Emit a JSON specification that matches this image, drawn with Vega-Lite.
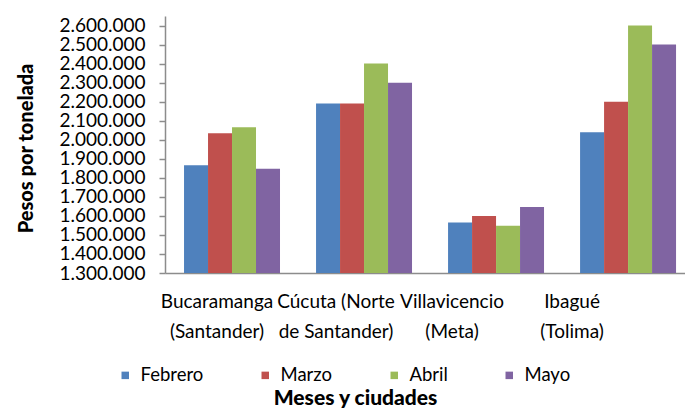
{
  "$schema": "https://vega.github.io/schema/vega-lite/v6.json",
  "width": 520,
  "height": 257,
  "autosize": "none",
  "padding": {"left": 165, "top": 16, "right": 0, "bottom": 145},
  "background": "white",
  "data": {"values": [
    {"ciudad": "Bucaramanga (Santander)", "mes": "Febrero", "precio": 1866000},
    {"ciudad": "Bucaramanga (Santander)", "mes": "Marzo", "precio": 2034000},
    {"ciudad": "Bucaramanga (Santander)", "mes": "Abril", "precio": 2065000},
    {"ciudad": "Bucaramanga (Santander)", "mes": "Mayo", "precio": 1847000},
    {"ciudad": "Cúcuta (Norte de Santander)", "mes": "Febrero", "precio": 2191000},
    {"ciudad": "Cúcuta (Norte de Santander)", "mes": "Marzo", "precio": 2191000},
    {"ciudad": "Cúcuta (Norte de Santander)", "mes": "Abril", "precio": 2400000},
    {"ciudad": "Cúcuta (Norte de Santander)", "mes": "Mayo", "precio": 2300000},
    {"ciudad": "Villavicencio (Meta)", "mes": "Febrero", "precio": 1565000},
    {"ciudad": "Villavicencio (Meta)", "mes": "Marzo", "precio": 1600000},
    {"ciudad": "Villavicencio (Meta)", "mes": "Abril", "precio": 1548000},
    {"ciudad": "Villavicencio (Meta)", "mes": "Mayo", "precio": 1647000},
    {"ciudad": "Ibagué (Tolima)", "mes": "Febrero", "precio": 2039000},
    {"ciudad": "Ibagué (Tolima)", "mes": "Marzo", "precio": 2200000},
    {"ciudad": "Ibagué (Tolima)", "mes": "Abril", "precio": 2600000},
    {"ciudad": "Ibagué (Tolima)", "mes": "Mayo", "precio": 2500000}
  ]},
  "mark": {"type": "bar", "clip": true},
  "encoding": {
    "x": {
      "field": "ciudad",
      "type": "nominal",
      "sort": ["Bucaramanga (Santander)", "Cúcuta (Norte de Santander)", "Villavicencio (Meta)", "Ibagué (Tolima)"],
      "scale": {"paddingInner": 0.273, "paddingOuter": 0.106, "align": 0.68},
      "axis": {
        "title": "Meses y ciudades",
        "labelAngle": 0,
        "labelExpr": "datum.value === 'Cúcuta (Norte de Santander)' ? ['Cúcuta (Norte', 'de Santander)'] : split(datum.value, ' ')",
        "labelFont": "Lato",
        "labelFontSize": 19,
        "labelLineHeight": 30,
        "labelColor": "black",
        "labelLimit": 300,
        "ticks": false,
        "tickSize": 0,
        "labelPadding": 19,
        "domainColor": "#8c8c8c",
        "domainWidth": 1.5,
        "labelOffset": {"condition": [
          {"test": "datum.value === 'Cúcuta (Norte de Santander)'", "value": -28},
          {"test": "datum.value === 'Villavicencio (Meta)'", "value": -44},
          {"test": "datum.value === 'Ibagué (Tolima)'", "value": -56}
        ], "value": -15},
        "titleFont": "Lato",
        "titleFontSize": 21,
        "titleFontWeight": 900,
        "titleColor": "black",
        "titleX": 190,
        "titleY": 131,
        "titleAlign": "center",
        "titleBaseline": "alphabetic"
      }
    },
    "xOffset": {
      "field": "mes",
      "sort": ["Febrero", "Marzo", "Abril", "Mayo"],
      "scale": {"paddingInner": 0, "paddingOuter": 0}
    },
    "y": {
      "field": "precio",
      "type": "quantitative",
      "scale": {"domain": [1300000, 2650000], "nice": false, "zero": false},
      "axis": {
        "values": [1300000, 1400000, 1500000, 1600000, 1700000, 1800000, 1900000, 2000000, 2100000, 2200000, 2300000, 2400000, 2500000, 2600000],
        "format": ",d",
        "grid": false,
        "labelFont": "Lato",
        "labelFontSize": 19,
        "labelColor": "black",
        "labelOverlap": false,
        "labelFlush": false,
        "labelPadding": 14,
        "tickSize": 6,
        "tickColor": "#8c8c8c",
        "tickWidth": 1.5,
        "domainColor": "#8c8c8c",
        "domainWidth": 1.5,
        "title": "Pesos por tonelada",
        "titleFont": "Lato",
        "titleFontSize": 20,
        "titleFontWeight": 900,
        "titleColor": "black",
        "titleX": -139,
        "titleY": 132,
        "titleBaseline": "middle"
      }
    },
    "color": {
      "field": "mes",
      "type": "nominal",
      "sort": ["Febrero", "Marzo", "Abril", "Mayo"],
      "scale": {"domain": ["Febrero", "Marzo", "Abril", "Mayo"], "range": ["#4F81BD", "#C0504D", "#9BBB59", "#8064A2"]},
      "legend": {
        "orient": "none",
        "direction": "horizontal",
        "legendX": -49,
        "legendY": 350,
        "title": null,
        "labelFont": "Lato",
        "labelFontSize": 18.5,
        "labelColor": "black",
        "labelOffset": 6,
        "symbolType": "square",
        "symbolSize": 56,
        "symbolStrokeWidth": 0,
        "columnPadding": 52
      }
    }
  },
  "config": {
    "view": {"stroke": null},
    "locale": {"number": {"decimal": ",", "thousands": ".", "grouping": [3], "currency": ["$", ""]}}
  }
}
